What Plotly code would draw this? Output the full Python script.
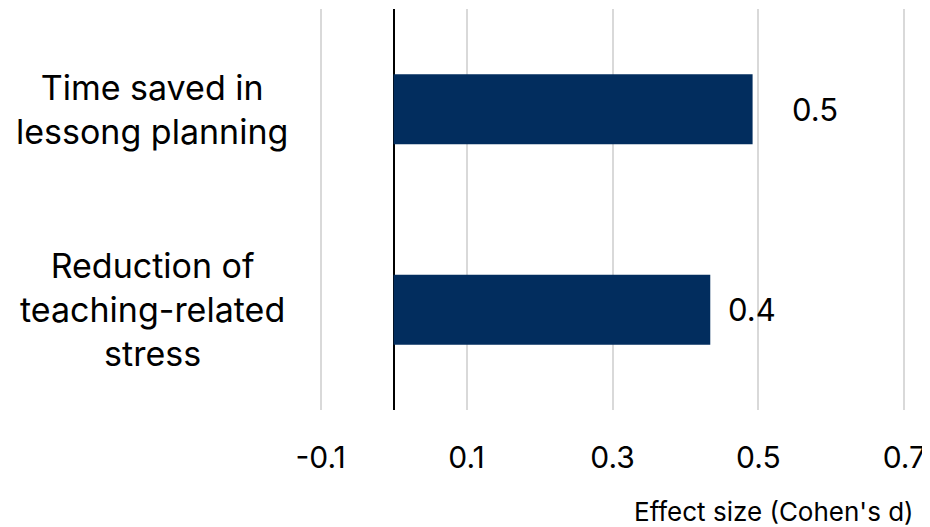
import plotly.graph_objects as go

categories = ["Reduction of<br>teaching-related<br>stress", "Time saved in<br>lessong planning"]
values = [0.434, 0.492]
value_labels = ["0.4", "0.5"]
tick_vals = [-0.1, 0.1, 0.3, 0.5, 0.7]
tick_text = ["-0.1", "0.1", "0.3", "0.5", "0.7"]
label_shifts = [16, 37]

FONT = "Inter"

# plot area in window pixels: x 317..908, y 9..410 (page body offset 8px)
PL, PR, PT, PB = 317, 908, 9, 410
PW, PH = PR - PL, PB - PT

fig = go.Figure()
fig.add_trace(go.Bar(
    y=categories, x=values, orientation="h",
    marker=dict(color="#022D5E", line=dict(width=0)),
    width=0.35,
))

for cat, v, t, s in zip(categories, values, value_labels, label_shifts):
    fig.add_annotation(x=v, y=cat, text=t, showarrow=False, xanchor="left",
                       xshift=s, font=dict(size=31, color="#000000", family=FONT))
    fig.add_annotation(x=(152 - PL) / PW, xref="paper", y=cat, text=cat, showarrow=False,
                       xanchor="center", align="center",
                       font=dict(size=34, color="#000000", family=FONT))

fig.add_annotation(x=(916 - PL) / PW, xref="paper", y=-(512 - PB) / PH, yref="paper",
                   text="Effect size (Cohen's d)", showarrow=False,
                   xanchor="right", yanchor="middle",
                   font=dict(size=26, color="#000000", family=FONT))

fig.update_xaxes(range=[-0.105, 0.705], tickvals=tick_vals, ticktext=tick_text,
                 showgrid=True, gridcolor="#D9D9D9", gridwidth=2,
                 zeroline=True, zerolinecolor="#000000", zerolinewidth=2,
                 showline=False, ticks="", ticklabelstandoff=27,
                 tickfont=dict(size=30, color="#000000", family=FONT))
fig.update_yaxes(range=[-0.5, 1.5], showticklabels=False, showgrid=False,
                 zeroline=False, showline=False)

fig.update_layout(
    width=922, height=519,
    margin=dict(l=PL - 8, r=930 - PR, t=PT - 8, b=527 - PB),
    paper_bgcolor="#FFFFFF", plot_bgcolor="#FFFFFF",
    showlegend=False,
    font=dict(family=FONT),
)

fig.write_html("out.html")
